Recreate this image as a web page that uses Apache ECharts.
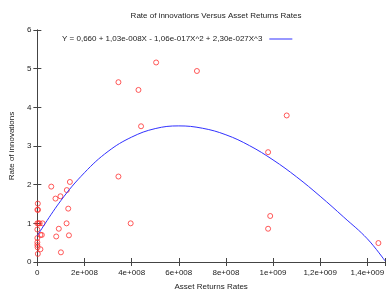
<!DOCTYPE html>
<html lang="en">
<head>
    <meta charset="utf-8" />
    <title>Rate of innovations Versus Asset Returns Rates</title>
    <script src="https://cdn.jsdelivr.net/npm/echarts@6/dist/echarts.min.js"></script>
    <style>
        html, body { margin: 0; background: #FFFFFF; }
        #chart { width: 388px; height: 296px; }
    </style>
</head>
<body>
<div id="chart"></div>
<script>
// observed points (asset returns, rate of innovations)
var assetReturns = [
    3.44e8, 5.04e8, 4.29e8, 6.77e8, 4.40e8, 3.44e8, 1.058e9, 9.79e8, 9.88e8, 9.79e8,
    1.447e9, 1.38e8, 1.25e8, 1.31e8, 1.24e8, 1.34e8, 3.96e8, 5.9e7, 7.7e7, 9.8e7,
    9.1e7, 8.0e7, 1.0e8, 2e6, 0, 3e6, 0, 5e6, 1e7, 2.2e7,
    0, 1.3e7, 1.9e7, 0, 0, 0, 1e6, 1.3e7, 2e6
]
var innovationRate = [
    4.65, 5.16, 4.45, 4.94, 3.51, 2.21, 3.79, 2.84, 1.19, 0.86,
    0.49, 2.07, 1.86, 1.38, 1.00, 0.69, 1.00, 1.95, 1.64, 1.70,
    0.86, 0.66, 0.25, 1.51, 1.35, 1.35, 1.00, 1.00, 1.00, 1.00,
    0.84, 0.70, 0.70, 0.62, 0.51, 0.44, 0.38, 0.33, 0.21
]

// fitted cubic
var fitX = [0, 1e8, 2e8, 3e8, 4e8, 5e8, 6e8, 7e8, 8e8, 9e8, 1e9, 1.1e9, 1.2e9, 1.3e9, 1.4e9, 1.475e9]
var fitY = [0.68, 1.59, 2.31, 2.86, 3.23, 3.45, 3.52, 3.46, 3.29, 3.01, 2.64, 2.20, 1.70, 1.16, 0.60, 0.03]

var xTickStep = 2e8
var xMax = 1.475e9
var fitLabel = 'Y = 0,660 + 1,03e-008X - 1,06e-017X^2 + 2,30e-027X^3'

function sciLabel(v) {
    if (v === 0) return '0'
    var k = v / xTickStep
    if (Math.abs(k - Math.round(k)) > 1e-6) return ''
    var e = Math.floor(Math.log10(v) + 1e-9)
    var m = Math.round(v / Math.pow(10, e) * 10) / 10
    return String(m).replace('.', ',') + 'e+' + String(e).padStart(3, '0')
}

var font = 'Liberation Sans'
var textColor = '#222'
var lineColor = '#444'

var chart = echarts.init(document.getElementById('chart'), null, { renderer: 'canvas' })

var axisCommon = {
    axisLine: { show: true, lineStyle: { color: lineColor, width: 1 } },
    axisTick: { show: true, inside: true, length: 4, lineStyle: { color: lineColor } },
    splitLine: { show: false }
}

chart.setOption({
    animation: false,
    title: {
        text: 'Rate of innovations Versus Asset Returns Rates',
        left: 211,
        top: 7,
        textAlign: 'center',
        textStyle: { fontFamily: font, fontSize: 8, fontWeight: 'normal', color: textColor }
    },
    legend: {
        data: [{ name: fitLabel, icon: 'rect' }],
        left: 57,
        top: 30,
        align: 'right',
        itemWidth: 23,
        itemHeight: 1,
        itemGap: 0,
        textStyle: { fontFamily: font, fontSize: 8, color: textColor, padding: [0, 2, 0, 0] }
    },
    grid: { left: 34, right: 1, top: 30, bottom: 31 },
    xAxis: [
        Object.assign({
            type: 'value',
            min: 0,
            max: xMax,
            interval: xTickStep,
            name: 'Asset Returns Rates',
            nameLocation: 'middle',
            nameGap: 21,
            nameTextStyle: { fontFamily: font, fontSize: 8, color: textColor },
            axisLabel: { margin: 7, fontFamily: font, fontSize: 8, color: textColor, formatter: sciLabel }
        }, axisCommon),
        Object.assign({
            type: 'value',
            position: 'top',
            min: 0,
            max: xMax,
            interval: xTickStep,
            axisLabel: { show: false }
        }, axisCommon)
    ],
    yAxis: [
        Object.assign({
            type: 'value',
            min: 0,
            max: 6,
            interval: 1,
            name: 'Rate of innovations',
            nameLocation: 'middle',
            nameGap: 19,
            nameTextStyle: { fontFamily: font, fontSize: 8, color: textColor },
            axisLabel: { margin: 6, fontFamily: font, fontSize: 8, color: textColor }
        }, axisCommon),
        Object.assign({
            type: 'value',
            position: 'right',
            min: 0,
            max: 6,
            interval: 1,
            axisLabel: { show: false }
        }, axisCommon)
    ],
    series: [
        {
            name: 'points',
            type: 'scatter',
            symbol: 'circle',
            symbolSize: 5,
            itemStyle: { color: 'rgba(255,255,255,0)', borderColor: '#ff3030', borderWidth: 1 },
            data: assetReturns.map(function (x, i) { return [x, innovationRate[i]] })
        },
        {
            name: fitLabel,
            type: 'line',
            smooth: 0.4,
            showSymbol: false,
            color: '#3030ff',
            lineStyle: { color: '#3030ff', width: 1 },
            data: fitX.map(function (x, i) { return [x, fitY[i]] })
        }
    ]
})
</script>
</body>
</html>
